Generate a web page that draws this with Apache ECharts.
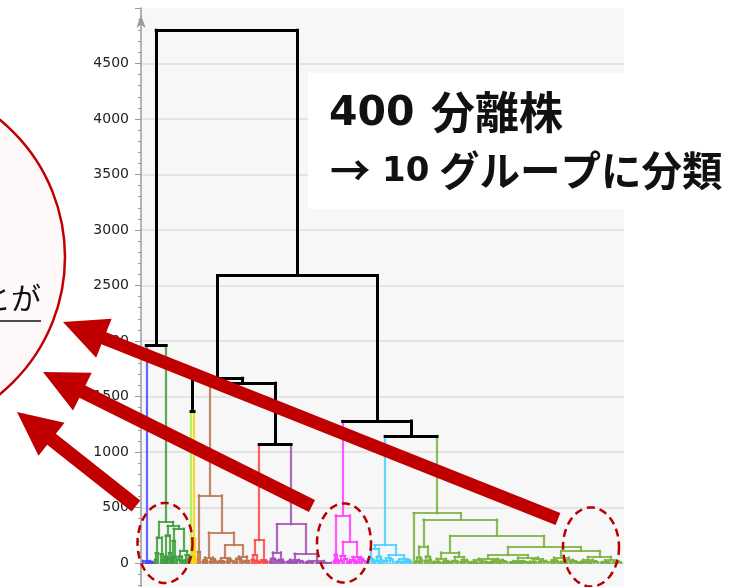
<!DOCTYPE html>
<html>
<head>
<meta charset="utf-8">
<script src="https://cdn.jsdelivr.net/npm/echarts@6/dist/echarts.min.js"></script>
<style>
  html, body { margin: 0; padding: 0; background: #ffffff; }
  #chart { width: 740px; height: 587px; }
</style>
</head>
<body>
<div id="chart"></div>
<script>
// ---- Dendrogram data -------------------------------------------------------
// A node is [mergeHeight, left, right]; a number is a bundle of that many
// isolates joined at height 0; a string refers to one of the 10 groups.
const blueTree = [20, 1, [12, [6, 3, 2], [5, 2, 2]]];
const greenTree = [370,
  [230, [90, [30, 1, 1], 2], [80, 2, [25, 1, 1]]],
  [335,
    [250, [60, 1, [30, 1, 1]], [90, [40, 1, 1], 1]],
    [310, [200, [50, 1, 1], [60, 1, 1]],
          [110, [60, [30, 2, 2], [20, 1, 1]], [70, [25, 2, 1], [40, 2, 1]]]]]];
const limeTree = 1;
const yellowTree = [220, [60, 1, 1], [40, 1, 1]];
const brownTree = [610,
  [100, 2, 2],
  [275,
    [50, [25, [10, 2, 1], [15, 1, 2]], [35, [12, 2, 2], [20, 1, 2]]],
    [160,
      [45, [20, [8, 2, 2], [14, 1, 2]], [30, [10, 2, 1], [18, 2, 2]]],
      [60, [40, [15, 2, 2], [25, 2, 1]], [20, [10, 2, 2], [15, 1, 2]]]]]];
const redTree = [205, [70, [30, 2, 2], [20, 1, 2]], [25, [10, 2, 2], [15, 2, 2]]];
const purpleTree = [350,
  [95, [40, [15, 2, 2], [25, 1, 2]], [30, [20, 2, 1], [12, 2, 2]]],
  [85,
    [30, [15, [8, 2, 2], [10, 2, 1]], [20, [8, 2, 2], [12, 3, 2]]],
    [20, [12, [6, 2, 2], [8, 2, 2]], [5, [3, 4, 4], [4, 4, 4]]]]];
const magentaTree = [430,
  [75, [20, 1, 1], [30, 1, 1]],
  [190,
    [65, [20, 2, 2], [35, 2, 2]],
    [55, [30, [12, 2, 2], [18, 2, 1]], [40, [10, 2, 2], [20, 2, 2]]]]];
const cyanTree = [160,
  [130, [40, [15, 2, 2], [25, 2, 1]], [60, [20, 2, 2], [30, 2, 1]]],
  [70, [45, [20, 3, 2], [30, 2, 3]],
       [35, [15, [8, 2, 2], [10, 2, 1]], [25, [10, 2, 2], [12, 2, 2]]]]];
const oliveTree = [450, 2,
  [390,
    [150, [50, [15, 2, 2], [25, 1, 2]], [60, [20, 2, 2], [30, 2, 1]]],
    [245,
      [95, [40, [15, [5, 2, 2], [8, 2, 2]], [20, [6, 2, 2], [10, 2, 1]]],
           [55, [20, [8, 2, 2], [12, 2, 2]], [30, [10, 2, 2], [15, 2, 2]]]],
      [145,
        [70,
          [40, [25, [10, [4, 2, 2], [6, 2, 2]], [15, [5, 2, 2], [8, 2, 2]]],
               [30, [12, [5, 2, 2], [7, 2, 2]], [18, [6, 2, 2], [9, 2, 3]]]],
          [50, [20, [8, [3, 2, 2], [5, 2, 2]], [14, [6, 2, 2], [7, 2, 2]]],
               [35, [15, [6, 2, 2], [9, 2, 2]], [22, [8, 2, 2], [10, 3, 3]]]]],
        [110,
          [50, [25, [10, 2, 2], [14, 2, 2]],
               [30, [12, [5, 2, 2], [6, 2, 2]], [18, [7, 2, 2], [9, 2, 2]]]],
          [55, [30, [12, [5, 2, 2], [7, 2, 2]], [16, [6, 2, 2], [8, 3, 3]]],
               [25, [10, [4, 2, 2], [6, 3, 3]], [14, [5, 2, 2], [8, 2, 3]]]]]]]]];

// Merges above the 10-group cut
const topTree = [4800,
  [1960, 'blue', 'green'],
  [2590,
    [1665, [1370, 'lime', 'yellow'], [1620, 'brown', [1070, 'red', 'purple']]],
    [1280, 'magenta', [1145, 'cyan', 'olive']]]];

const groupNames  = ['blue', 'green', 'lime', 'yellow', 'brown', 'red', 'purple', 'magenta', 'cyan', 'olive'];
const groupTrees  = [blueTree, greenTree, limeTree, yellowTree, brownTree, redTree, purpleTree, magentaTree, cyanTree, oliveTree];
const groupColors = ['#4a4aff', '#3c9c3c', '#a8ee44', '#f5d400', '#b8734e', '#ff4646', '#a050b4', '#ff3cff', '#46d0ff', '#78b23e'];
const linkColor = '#000000';

// Value axis ticks
const yMin = -500, yMax = 5000, yStep = 500;

// Annotation texts (each headline split into its number and its words)
const titleNumbers = ['400', '10'];
const titleWords = ['分離株', 'グループに分類'];
const titleArrow = '→';
const noteText = 'ことが';

// ---- Dendrogram layout -----------------------------------------------------
function layoutDendrogram() {
  const groups = {};
  groupNames.forEach((n, i) => { groups[n] = { tree: groupTrees[i], color: groupColors[i] }; });
  let cursor = 0;
  const segs = [];
  function walk(node, color) {
    if (typeof node === 'string') return walk(groups[node].tree, groups[node].color);
    if (typeof node === 'number') {
      const x = cursor + (node - 1) / 2;
      cursor += node;
      return { x: x, h: 0, color: color };
    }
    const h = node[0];
    const a = walk(node[1], color);
    const b = walk(node[2], color);
    segs.push({ color: color,   coords: [[a.x, h], [b.x, h]] });
    segs.push({ color: a.color, coords: [[a.x, h], [a.x, a.h]] });
    segs.push({ color: b.color, coords: [[b.x, h], [b.x, b.h]] });
    return { x: (a.x + b.x) / 2, h: h, color: color };
  }
  walk(topTree, linkColor);
  return { segs: segs, leafCount: cursor };
}

const dendro = layoutDendrogram();
const byColor = {};
dendro.segs.forEach(s => { (byColor[s.color] = byColor[s.color] || []).push({ coords: s.coords }); });

const series = [];
groupColors.forEach(c => {
  if (!byColor[c]) return;
  series.push({
    type: 'lines', coordinateSystem: 'cartesian2d', polyline: false, silent: true, z: 3,
    lineStyle: { color: c, width: 2.2, opacity: 0.85, cap: 'square' },
    data: byColor[c]
  });
});
series.push({
  type: 'lines', coordinateSystem: 'cartesian2d', polyline: false, silent: true, z: 4,
  lineStyle: { color: linkColor, width: 3, opacity: 1, cap: 'square' },
  data: byColor[linkColor]
});

// ---- Annotation shapes -----------------------------------------------------
function arrowPoints(tail, tip, shaft, headW, headL) {
  const dx = tip[0] - tail[0], dy = tip[1] - tail[1];
  const len = Math.hypot(dx, dy);
  const ux = dx / len, uy = dy / len, px = -uy, py = ux;
  const bx = tip[0] - ux * headL, by = tip[1] - uy * headL;
  return [
    [tail[0] + px * shaft / 2, tail[1] + py * shaft / 2],
    [bx + px * shaft / 2, by + py * shaft / 2],
    [bx + px * headW / 2, by + py * headW / 2],
    [tip[0], tip[1]],
    [bx - px * headW / 2, by - py * headW / 2],
    [bx - px * shaft / 2, by - py * shaft / 2],
    [tail[0] - px * shaft / 2, tail[1] - py * shaft / 2]
  ];
}
function ellipsePoints(cx, cy, rx, ry) {
  const pts = [];
  for (let i = 0; i < 96; i++) {
    const t = i / 96 * Math.PI * 2;
    pts.push([cx + rx * Math.cos(t), cy + ry * Math.sin(t)]);
  }
  return pts;
}
const accent = '#c00000';
const arrows = [
  { tail: [558, 519], tip: [63, 322], shaft: 13 },
  { tail: [312, 506], tip: [43, 372], shaft: 13.5 },
  { tail: [136, 506], tip: [17, 412], shaft: 14 }
];
const rings = [[165, 543, 27.5, 40], [344, 543, 27, 39.5], [591, 547, 28, 39.5]];

function headText(x, y, text, font) {
  return { type: 'text', z: 6, silent: true, x: x, y: y,
           style: { text: text, font: font, fill: '#111', align: 'left', verticalAlign: 'middle' } };
}

const graphics = [
  { type: 'rect', z: -10, silent: true, shape: { x: 141, y: 8, width: 483, height: 579 }, style: { fill: '#f7f7f7' } },
  { type: 'circle', z: 5, silent: true, shape: { cx: -112, cy: 257, r: 177 }, style: { fill: '#fff8f8', stroke: accent, lineWidth: 2.5 } },
  { type: 'text', z: 6, silent: true, x: 41, y: 298,
    style: { text: noteText, font: '30px "Noto Sans CJK JP"', fill: '#111', align: 'right', verticalAlign: 'middle' } },
  { type: 'line', z: 6, silent: true, shape: { x1: 0, y1: 321, x2: 41, y2: 321 }, style: { stroke: '#111', lineWidth: 1.5 } },
  { type: 'rect', z: 5, silent: true, shape: { x: 308, y: 73, width: 432, height: 136 }, style: { fill: '#ffffff' } },
  headText(329, 114, titleNumbers[0], 'bold 41px "DejaVu Sans"'),
  headText(431, 112, titleWords[0], 'bold 44px "Noto Sans CJK JP"'),
  headText(330, 171, titleArrow, 'bold 40.5px "Noto Sans CJK JP"'),
  headText(382, 172, titleNumbers[1], 'bold 34px "DejaVu Sans"'),
  headText(439, 171, titleWords[1], 'bold 40.5px "Noto Sans CJK JP"')
];
rings.forEach(r => graphics.push({
  type: 'polygon', z: 20, silent: true, shape: { points: ellipsePoints(r[0], r[1], r[2], r[3]) },
  style: { fill: 'none', stroke: '#b80000', lineWidth: 2.5, lineDash: [8, 5] }
}));
arrows.forEach(a => graphics.push({
  type: 'polygon', z: 30, silent: true, shape: { points: arrowPoints(a.tail, a.tip, a.shaft, 42, 44) },
  style: { fill: accent }
}));

// ---- Chart -----------------------------------------------------------------
const chart = echarts.init(document.getElementById('chart'), null, { renderer: 'canvas' });
chart.setOption({
  animation: false,
  backgroundColor: '#ffffff',
  grid: { left: 141, top: 8, width: 483, height: 610.5, containLabel: false, outerBoundsMode: 'none', show: false },
  xAxis: { type: 'value', min: -1.7, max: dendro.leafCount + 0.8, show: false },
  yAxis: {
    type: 'value', min: yMin, max: yMax, interval: yStep,
    axisLine: { show: true, onZero: false, symbol: ['none', 'arrow'], symbolSize: [7, 13], symbolOffset: [0, -7],
                lineStyle: { color: '#9a9a9a', width: 1.5 } },
    axisTick: { show: true, length: 6, lineStyle: { color: '#9a9a9a', width: 1 } },
    minorTick: { show: true, splitNumber: 5, length: 3, lineStyle: { color: '#9a9a9a', width: 1 } },
    axisLabel: { showMaxLabel: false, margin: 12, fontFamily: 'DejaVu Sans', fontSize: 14, color: '#222',
                 formatter: v => String(v) },
    splitLine: { show: true, showMaxLine: false, lineStyle: { color: '#dedede', width: 1.5 } }
  },
  graphic: { elements: graphics },
  series: series
});
</script>
</body>
</html>
